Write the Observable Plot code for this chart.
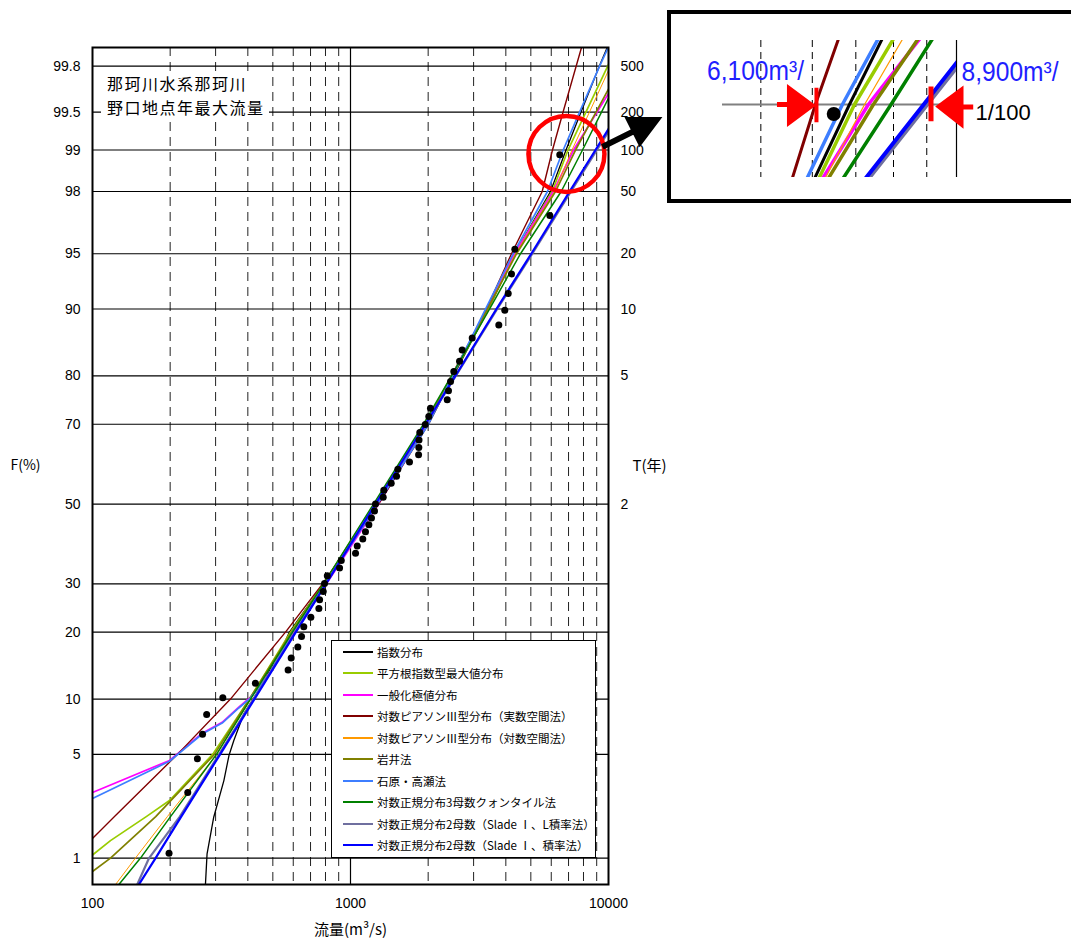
<!DOCTYPE html>
<html><head><meta charset="utf-8">
<script src="https://cdn.jsdelivr.net/npm/d3@7"></script>
<script src="https://cdn.jsdelivr.net/npm/@observablehq/plot@0.6"></script>
<style>
html,body{margin:0;padding:0;background:#fff;overflow:hidden}
#root{position:relative;width:1071px;height:939px;overflow:hidden}
#main{position:absolute;left:0;top:0}
#title{position:absolute;left:101px;top:72px;padding:0 4px 2px 6px;background:#fff;font-family:"Noto Sans CJK JP",sans-serif;font-size:16px;letter-spacing:1.5px;line-height:23.5px;color:#000;white-space:nowrap}
#insetbox{position:absolute;left:667px;top:10px;width:440px;height:193px;border:4px solid #000;box-sizing:border-box;background:#fff}
#inset{position:absolute;left:668px;top:12px}
#legend{position:absolute;left:331px;top:640px;width:265px;height:218px;border:1px solid #000;box-sizing:border-box;background:#fff;font-family:"Noto Sans CJK JP",sans-serif;font-size:11.5px;color:#000}
.row{height:21.5px;display:flex;align-items:center;white-space:nowrap}
.sw{width:30px;height:2px;margin-left:11px;margin-right:4px;flex:none}
</style></head>
<body>
<div id="root">
  <div id="main"></div>
  <div id="title"></div>
  <div id="legend"></div>
  <div id="insetbox"></div>
  <div id="inset"></div>
</div>
<script>
// ---------------- data ----------------
const titleLines = ["那珂川水系那珂川", "野口地点年最大流量"];
const curveNames = ["指数分布","平方根指数型最大値分布","一般化極値分布","対数ピアソンⅢ型分布（実数空間法）","対数ピアソンⅢ型分布（対数空間法）","岩井法","石原・高瀬法","対数正規分布3母数クォンタイル法","対数正規分布2母数（Slade Ⅰ、L積率法）","対数正規分布2母数（Slade Ⅰ、積率法）"];
const curveColors = ["#000000","#99cc00","#ff00ff","#800000","#ff9900","#808000","#3d7eff","#008000","#6f6f9f","#0000ff"];

// non-exceedance probability F (%) and discharge Q (m3/s)
const expF = [0.5, 0.62, 1.078, 1.98, 3.46, 4.92, 6.01, 8.40, 11.44, 13.99, 18.49, 20, 30, 50, 70, 80, 90, 95, 98, 99, 99.5, 99.8, 99.865];
const expQ = [272, 274, 278, 295, 323, 338, 353, 386, 448, 490, 560, 580, 786, 1262, 2005, 2507, 3426, 4323, 5960, 6844, 7825, 9221, 9886];
const sqrtF = [1.055, 1.35, 2, 2.57, 5, 10, 20, 30, 50, 70, 80, 90, 95, 98, 99, 99.5, 99.8, 99.865];
const sqrtQ = [100, 117.4, 161.6, 198.8, 292.1, 406, 585.4, 786, 1250, 1988, 2485, 3426, 4323, 6050, 6966, 8173, 9929, 10780];
const gevF = [2.90, 4.60, 6.60, 7.58, 9.09, 10.22, 13.23, 20, 30, 50, 70, 80, 90, 95, 98, 99, 99.5, 99.8];
const gevQ = [100, 198.8, 266.2, 318.2, 369, 409.7, 482.5, 601, 807, 1284, 1988, 2463, 3396, 4323, 6105, 7318, 9032, 11640];
const lp3rF = [1.40, 2, 5, 10, 20, 30, 50, 70, 80, 90, 95, 98, 99, 99.5, 99.8, 99.865];
const lp3rQ = [100, 121.7, 213.5, 342.6, 559.8, 779, 1284, 2005, 2485, 3366, 4207, 5534, 6066, 6668, 7496, 7859];
const lp3lF = [0.5, 0.62, 1, 2, 5, 10, 20, 30, 50, 70, 80, 90, 95, 98, 99, 99.5, 99.8];
const lp3lQ = [113, 122.8, 146.7, 195.1, 302.7, 409.7, 596, 793, 1250, 1970, 2463, 3396, 4361, 6175, 7220, 8440, 10180];
const iwaiF = [0.787, 1, 2, 5, 10, 20, 30, 50, 70, 80, 90, 95, 98, 99, 99.5, 99.8];
const iwaiQ = [100, 117.4, 175.8, 296.9, 406, 590.7, 786, 1239, 1953, 2463, 3396, 4400, 6231, 7450, 8946, 11190];
const ishiF = [2.65, 4.55, 6.54, 7.51, 9.01, 10.12, 13.13, 20, 30, 50, 70, 80, 90, 95, 98, 99, 99.5, 99.8, 99.865];
const ishiQ = [100, 198.8, 266.2, 318.2, 369, 409.7, 482.5, 596, 800, 1273, 2005, 2485, 3337, 4272, 5800, 6675, 7727, 9237, 9972];
const ln3F = [0.5, 0.62, 1, 2, 5, 10, 20, 30, 50, 70, 80, 90, 95, 98, 99, 99.5, 99.8];
const ln3Q = [121, 126.5, 153.5, 200.6, 302.5, 409.7, 596, 786, 1228, 1918, 2463, 3457, 4560, 6556, 7930, 9395, 11535];
const ln2lF = [0.5, 0.62, 1, 2, 5, 10, 20, 30, 50, 70, 80, 90, 95, 98, 99, 99.5];
const ln2lQ = [139, 149, 165.7, 218, 309.4, 420.8, 611, 801.4, 1250, 1957, 2559, 3704, 5066, 7151, 9016, 11160];
const ln2mF = [0.5, 0.62, 1, 2, 5, 10, 20, 30, 50, 70, 80, 90, 95, 98, 99, 99.5];
const ln2mQ = [141.4, 151.2, 175.6, 220.7, 312.3, 424.2, 613.8, 803.5, 1250, 1951, 2548, 3678, 5021, 7067, 8904, 10992];

// observed annual maxima (plotting position F %, discharge Q)
const obsF = [1.087, 2.899, 4.710, 6.522, 8.333, 10.145, 11.957, 13.768, 15.580, 17.391, 19.203, 21.014, 22.826, 24.638, 26.449, 28.261, 30.072, 31.884, 33.696, 35.507, 37.319, 39.130, 40.942, 42.754, 44.565, 46.377, 48.188, 50.000, 51.812, 53.623, 55.435, 57.246, 59.058, 60.870, 62.681, 64.493, 66.304, 68.116, 69.928, 71.739, 73.551, 75.362, 77.174, 78.986, 80.797, 82.609, 84.420, 86.232, 88.043, 89.855, 91.667, 93.478, 95.290, 97.101, 98.913];
const obsQ = [198, 234, 255, 267, 277, 320, 428, 573, 589, 625, 646, 659, 702, 754, 759, 784, 793, 813, 907, 921, 1046, 1062, 1116, 1143, 1178, 1206, 1239, 1250, 1339, 1346, 1438, 1508, 1526, 1693, 1836, 1840, 1843, 1856, 1949, 2011, 2042, 2371, 2398, 2442, 2514, 2646, 2709, 2963, 3757, 3963, 4086, 4207, 4334, 5924, 6473];

// ticks
const fTicks = [1, 5, 10, 20, 30, 50, 70, 80, 90, 95, 98, 99, 99.5, 99.8];
const tTicks = [2, 5, 10, 20, 50, 100, 200, 500];
const xTicks = [100, 1000, 10000];
const xGridMinor = [200, 300, 400, 500, 600, 700, 800, 900, 2000, 3000, 4000, 5000, 6000, 7000, 8000, 9000];
const insetGrid = [5000, 6000, 7000, 8000, 9000];

// annotation: 1/100 flood range
const annotF = 99;
const annotQ = [6100, 8900];
const circleAt = [{Q: 6870, F: 98.93}];

// ---------------- helpers ----------------
function probit(p) {
  const a=[-3.969683028665376e+01,2.209460984245205e+02,-2.759285104469687e+02,1.383577518672690e+02,-3.066479806614716e+01,2.506628277459239e+00];
  const b=[-5.447609879822406e+01,1.615858368580409e+02,-1.556989798598866e+02,6.680131188771972e+01,-1.328068155288572e+01];
  const c=[-7.784894002430293e-03,-3.223964580411365e-01,-2.400758277161838e+00,-2.549732539343734e+00,4.374664141464968e+00,2.938163982698783e+00];
  const d=[7.784695709041462e-03,3.224671290700398e-01,2.445134137142996e+00,3.754408661907416e+00];
  const pl=0.02425, ph=1-pl; let q,r;
  if (p<pl){q=Math.sqrt(-2*Math.log(p));return (((((c[0]*q+c[1])*q+c[2])*q+c[3])*q+c[4])*q+c[5])/((((d[0]*q+d[1])*q+d[2])*q+d[3])*q+1);}
  if (p<=ph){q=p-0.5;r=q*q;return (((((a[0]*r+a[1])*r+a[2])*r+a[3])*r+a[4])*r+a[5])*q/(((((b[0]*r+b[1])*r+b[2])*r+b[3])*r+b[4])*r+1);}
  q=Math.sqrt(-2*Math.log(1-p));return -(((((c[0]*q+c[1])*q+c[2])*q+c[3])*q+c[4])*q+c[5])/((((d[0]*q+d[1])*q+d[2])*q+d[3])*q+1);
}
const zF = f => probit(f / 100);
const rows = (F, Q) => F.map((f, i) => ({F: f, Q: Q[i]}));
const seriesData = [rows(expF,expQ), rows(sqrtF,sqrtQ), rows(gevF,gevQ), rows(lp3rF,lp3rQ), rows(lp3lF,lp3lQ), rows(iwaiF,iwaiQ), rows(ishiF,ishiQ), rows(ln3F,ln3Q), rows(ln2lF,ln2lQ), rows(ln2mF,ln2mQ)];
const mainW = [1.3, 1.7, 1.7, 1.4, 1.0, 1.7, 1.7, 1.5, 2.2, 2.2];
const insetW = [3, 3.5, 3.5, 3, 1.2, 3.5, 3.5, 3.5, 4, 4];
const obs = rows(obsF, obsQ);

const fZ = fTicks.map(zF);
const fLabel = new Map(fZ.map((v, i) => [v, String(fTicks[i])]));
const tZ = tTicks.map(t => zF(100 - 100 / t));
const tLabel = new Map(tZ.map((v, i) => [v, String(tTicks[i])]));

// custom symbols (pixel geometry relative to anchor)
const bigArrow = {draw(ctx) {
  ctx.moveTo(34.66,-9.68); ctx.lineTo(64.26,-24.48); ctx.lineTo(66.94,-19.12); ctx.lineTo(37.34,-4.32); ctx.closePath();
  ctx.moveTo(58.0,-37.0); ctx.lineTo(96,-37); ctx.lineTo(73.2,-6.6); ctx.closePath();
}};
const leftArrow = {draw(ctx) {
  ctx.moveTo(-40,-2.5); ctx.lineTo(-29,-2.5); ctx.lineTo(-29,2.5); ctx.lineTo(-40,2.5); ctx.closePath();
  ctx.moveTo(-30,-20.5); ctx.lineTo(-1,1); ctx.lineTo(-30,22.5); ctx.closePath();
  ctx.moveTo(-2.5,-16.7); ctx.lineTo(1.5,-16.7); ctx.lineTo(1.5,17.7); ctx.lineTo(-2.5,17.7); ctx.closePath();
}};
const rightArrow = {draw(ctx) {
  ctx.moveTo(4.9,-18); ctx.lineTo(9.9,-18); ctx.lineTo(9.9,16.7); ctx.lineTo(4.9,16.7); ctx.closePath();
  ctx.moveTo(39.9,-19); ctx.lineTo(39.9,24.3); ctx.lineTo(11.6,2); ctx.closePath();
  ctx.moveTo(39.6,0); ctx.lineTo(49.6,0); ctx.lineTo(49.6,5); ctx.lineTo(39.6,5); ctx.closePath();
}};

const cjk = "'Noto Sans CJK JP', sans-serif";

// ---------------- main chart ----------------
const main = Plot.plot({
  width: 1071, height: 939,
  marginLeft: 92, marginRight: 463, marginTop: 47, marginBottom: 55,
  x: {type: "log", domain: [100, 10000]},
  y: {domain: [-2.5, 3]},
  style: {fontFamily: "'Liberation Sans', Arial, sans-serif", fontSize: "14px", color: "#000", background: "#fff"},
  marks: [
    Plot.ruleX(xGridMinor, {stroke: "#222", strokeWidth: 1, strokeDasharray: "9,6"}),
    Plot.ruleX([1000], {stroke: "#000", strokeWidth: 1.2}),
    Plot.ruleY(fTicks, {y: zF, stroke: "#000", strokeWidth: 1.2}),
    ...seriesData.map((data, i) => Plot.line(data, {x: "Q", y: d => zF(d.F), stroke: curveColors[i], strokeWidth: mainW[i], clip: true})),
    Plot.dot(obs, {x: "Q", y: d => zF(d.F), r: 3.5, fill: "#000"}),
    Plot.frame({stroke: "#000", strokeWidth: 2}),
    Plot.axisY(fZ, {anchor: "left", tickSize: 0, tickPadding: 12, tickFormat: v => fLabel.get(v), label: null}),
    Plot.axisY(tZ, {anchor: "right", tickSize: 0, tickPadding: 12, tickFormat: v => tLabel.get(v), label: null}),
    Plot.axisX(xTicks, {tickSize: 0, tickPadding: 14, tickFormat: d => String(d), label: null}),
    Plot.text(["F(%)"], {frameAnchor: "left", dx: -82, textAnchor: "start", fontFamily: cjk, fontSize: 14, fill: "#000"}),
    Plot.text(["T(年)"], {frameAnchor: "right", dx: 24, textAnchor: "start", fontFamily: cjk, fontSize: 15, fill: "#000"}),
    Plot.text(["流量(m³/s)"], {frameAnchor: "bottom", dy: 50, fontFamily: cjk, fontSize: 15, fill: "#000"}),
    Plot.dot(circleAt, {x: "Q", y: d => zF(d.F), r: 38, stroke: "#ff0000", strokeWidth: 4.5, fill: "none"}),
    Plot.dot(circleAt, {x: "Q", y: d => zF(d.F), symbol: bigArrow, fill: "#000", stroke: "none"})
  ]
});
document.getElementById("main").appendChild(main);

// ---------------- title box (white-filled, over the grid) ----------------
document.getElementById("title").innerHTML = titleLines.map(t => `<div>${t}</div>`).join("");

// ---------------- legend ----------------
const leg = document.getElementById("legend");
curveNames.forEach((n, i) => {
  const row = document.createElement("div"); row.className = "row";
  const sw = document.createElement("span"); sw.className = "sw"; sw.style.background = curveColors[i];
  const tx = document.createElement("span"); tx.textContent = n;
  row.appendChild(sw); row.appendChild(tx); leg.appendChild(row);
});

// ---------------- inset (zoom at 1/100) ----------------
const fmt = d3.format(",");
const z99 = zF(annotF);
const inset = Plot.plot({
  width: 403, height: 190,
  marginLeft: 54, marginRight: 115, marginTop: 28, marginBottom: 25,
  x: {type: "log", domain: [4365, 10000], axis: null},
  y: {domain: [2.086, 2.537], axis: null},
  style: {background: "transparent", fontFamily: "'Liberation Sans', Arial, sans-serif"},
  marks: [
    Plot.ruleX(insetGrid, {stroke: "#000", strokeWidth: 1, strokeDasharray: "7,5"}),
    Plot.ruleX([10000], {stroke: "#000", strokeWidth: 1.2}),
    Plot.ruleY([annotF], {y: zF, stroke: "#808080", strokeWidth: 2}),
    ...seriesData.map((data, i) => Plot.line(data, {x: "Q", y: d => zF(d.F), stroke: curveColors[i], strokeWidth: insetW[i], clip: true})),
    Plot.dot(obs, {x: "Q", y: d => zF(d.F), r: 7, fill: "#000", clip: true}),
    Plot.dot([annotQ[0]], {x: d => d, y: () => z99, symbol: leftArrow, fill: "#ff0000", stroke: "none"}),
    Plot.dot([annotQ[1]], {x: d => d, y: () => z99, symbol: rightArrow, fill: "#ff0000", stroke: "none"}),
    Plot.text([annotQ[0]], {x: d => d, y: () => z99, text: d => fmt(d) + "m³/", textAnchor: "end", dx: -13, dy: -33, fill: "#1f1fff", fontSize: 28}),
    Plot.text([annotQ[1]], {x: d => d, y: () => z99, text: d => fmt(d) + "m³/", textAnchor: "start", dx: 38, dy: -32, fill: "#1f1fff", fontSize: 28}),
    Plot.text([annotF], {x: () => annotQ[1], y: zF, text: f => "1/" + Math.round(100 / (100 - f)), textAnchor: "start", dx: 52, dy: 8, fill: "#000", fontSize: 22})
  ]
});
// condense the blue discharge labels to the width they take in the original
inset.querySelectorAll("text").forEach(t => {
  if (t.textContent.includes("m³/")) {
    t.setAttribute("textLength", "97");
    t.setAttribute("lengthAdjust", "spacingAndGlyphs");
  }
});
document.getElementById("inset").appendChild(inset);
</script>
</body></html>
